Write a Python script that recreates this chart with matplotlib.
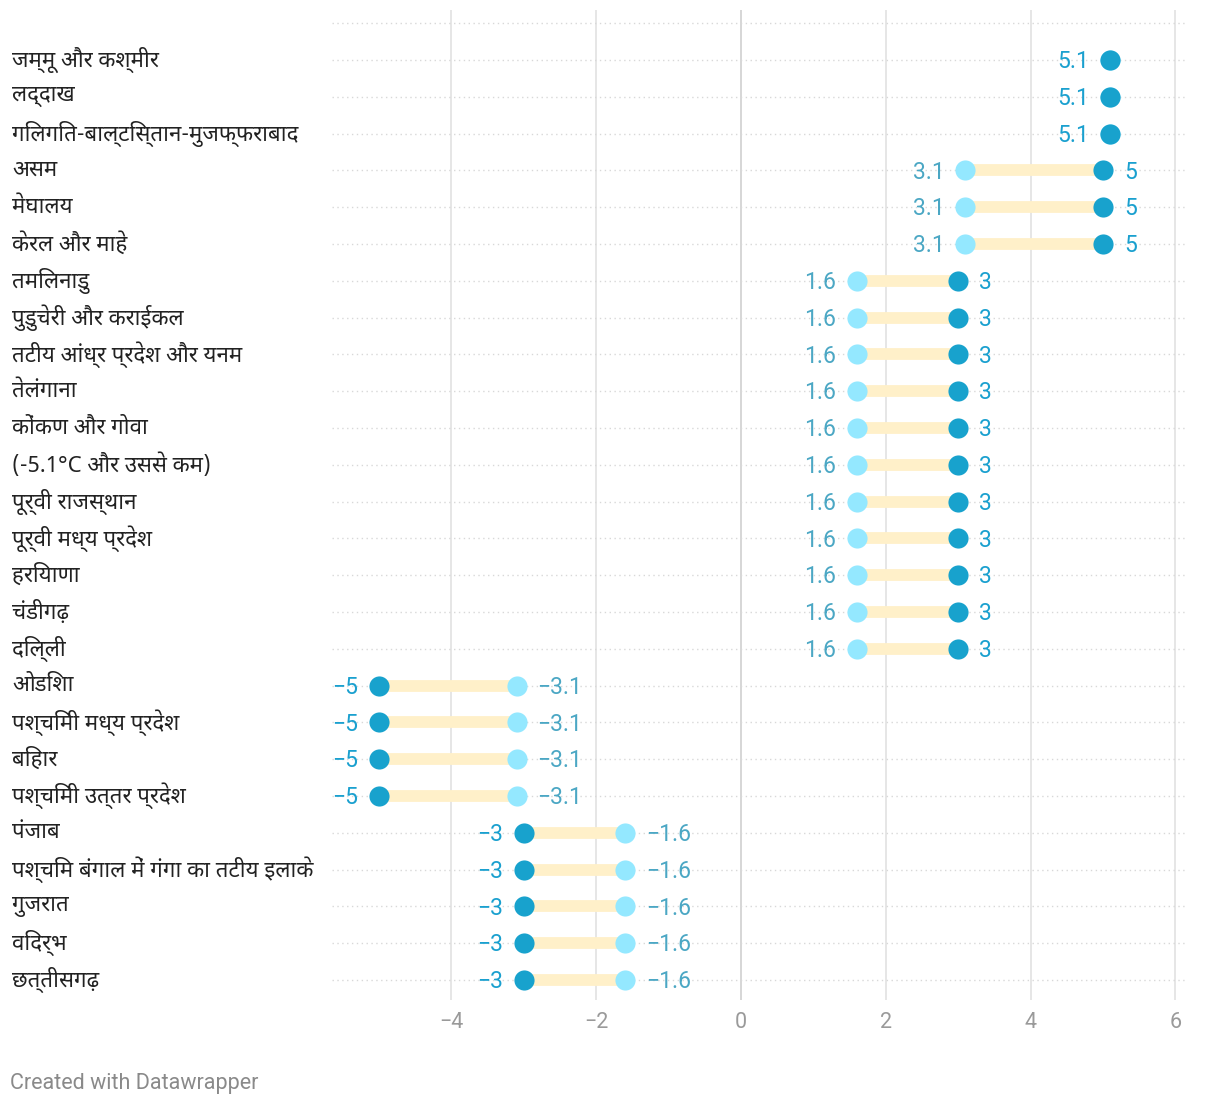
import matplotlib
matplotlib.use("Agg")
import matplotlib.pyplot as plt
from matplotlib import font_manager
from matplotlib.ft2font import FT2Font

# ---------------- data ----------------
regions = [
    "जम्मू और कश्मीर", "लद्दाख", "गिलगित-बाल्टिस्तान-मुजफ्फराबाद", "असम", "मेघालय",
    "केरल और माहे", "तमिलनाडु", "पुडुचेरी और कराईकल", "तटीय आंध्र प्रदेश और यनम",
    "तेलंगाना", "कोंकण और गोवा", "(-5.1°C और उससे कम)", "पूर्वी राजस्थान",
    "पूर्वी मध्य प्रदेश", "हरियाणा", "चंडीगढ़", "दिल्ली", "ओडिशा",
    "पश्चिमी मध्य प्रदेश", "बिहार", "पश्चिमी उत्तर प्रदेश", "पंजाब",
    "पश्चिम बंगाल में गंगा का तटीय इलाके", "गुजरात", "विदर्भ", "छत्तीसगढ़",
]
light_vals = [5.1, 5.1, 5.1, 3.1, 3.1, 3.1, 1.6, 1.6, 1.6, 1.6, 1.6, 1.6, 1.6,
              1.6, 1.6, 1.6, 1.6, -3.1, -3.1, -3.1, -3.1, -1.6, -1.6, -1.6, -1.6, -1.6]
dark_vals = [5.1, 5.1, 5.1, 5, 5, 5, 3, 3, 3, 3, 3, 3, 3,
             3, 3, 3, 3, -5, -5, -5, -5, -3, -3, -3, -3, -3]
xticks = [-4, -2, 0, 2, 4, 6]
xtick_labels = ["−4", "−2", "0", "2", "4", "6"]
footer = "Created with Datawrapper"

# ---------------- fonts ----------------
def find_deva_font():
    found = []
    for f in font_manager.fontManager.ttflist:
        try:
            cm = FT2Font(f.fname).get_charmap()
            if 0x0915 in cm and 0x0930 in cm:
                found.append(f.name)
        except Exception:
            pass
    prefs = ["Noto Sans Devanagari", "Noto Sans Devanagari UI", "Mukta", "Hind",
             "Lohit Devanagari", "FreeSans", "Noto Serif Devanagari"]
    for p in prefs:
        if p in found:
            return p
    return found[0] if found else None

deva = find_deva_font()
label_family = ([deva] if deva else []) + ["Roboto", "DejaVu Sans"]
num_family = ["Roboto", "DejaVu Sans"]

W, H = 1220, 1108
DPI = 100
fig = plt.figure(figsize=(W / DPI, H / DPI), dpi=DPI)
fig.patch.set_facecolor("white")

# axes placement (pixels)
ax_l, ax_r, ax_t, ax_b = 332, 1186, 10, 1000
ax = fig.add_axes([ax_l / W, 1 - ax_b / H, (ax_r - ax_l) / W, (ax_b - ax_t) / H])
ax.set_facecolor("none")

px_per_unit = 72.4
x0_px = 741
ax.set_xlim((ax_l - x0_px) / px_per_unit, (ax_r - x0_px) / px_per_unit)
n = len(regions)
row0_px, rowN_px = 60, 980
row_step = (rowN_px - row0_px) / (n - 1)
ax.set_ylim((ax_b - row0_px) / row_step, (ax_t - row0_px) / row_step)

for s in ax.spines.values():
    s.set_visible(False)
ax.set_yticks([])
ax.set_xticks(xticks)
ax.set_xticklabels(xtick_labels, fontfamily=num_family, fontsize=15.5, color="#9a9a9a")
ax.tick_params(axis="x", length=0, pad=9)

# vertical gridlines
for t in xticks:
    ax.axvline(t, color="#cfcfcf" if t == 0 else "#e2e2e2", lw=1.2, zorder=0)

# horizontal dotted lines
for i in range(-1, n):
    ax.axhline(i, color="#d8d8d8", lw=1, ls=(0, (1, 2.5)), zorder=0.5)

dark_c = "#18a2cd"
light_c = "#94e8ff"
line_c = "#fff0c9"
dark_txt = "#1aa0cf"
light_txt = "#4ba7c4"

NUM_FS = 16.5
dy = -0.711 * NUM_FS / 2  # centre digits on the dot


def num_label(val, i, side, color):
    ax.annotate(f"{val:g}".replace("-", "−"), (val, i),
                xytext=(-15 if side == "l" else 15, dy), textcoords="offset points",
                ha="right" if side == "l" else "left", va="baseline",
                fontsize=NUM_FS, fontfamily=num_family, color=color)


for i, (lv, dv) in enumerate(zip(light_vals, dark_vals)):
    ax.plot([lv, dv], [i, i], color=line_c, lw=8.5, solid_capstyle="butt", zorder=1)
    ax.plot([lv], [i], "o", ms=14.5, color=light_c, mec="none", zorder=2)
    ax.plot([dv], [i], "o", ms=14.5, color=dark_c, mec="none", zorder=3)
    lo, hi = min(lv, dv), max(lv, dv)
    if lv == dv:
        num_label(dv, i, "l", dark_txt)
        continue
    num_label(lo, i, "l", dark_txt if lo == dv else light_txt)
    num_label(hi, i, "r", dark_txt if hi == dv else light_txt)

# row labels
for i, name in enumerate(regions):
    y_px = row0_px + row_step * i
    fig.text(12 / W, 1 - y_px / H, name, ha="left", va="center", fontsize=16,
             fontfamily=label_family, color="#222222")

fig.text(10 / W, 1 - 1083 / H, footer, ha="left", va="center", fontsize=15.5,
         fontfamily=num_family, color="#8a8a8a")

fig.savefig("out.png", dpi=DPI, facecolor="white")
